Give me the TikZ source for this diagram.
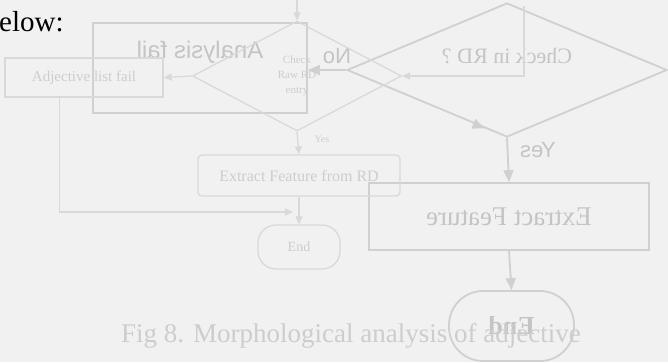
\documentclass[tikz,border=0pt]{standalone}
\usepackage{fontspec}
\setmainfont{Liberation Serif}
\setsansfont{Liberation Sans}
\usepackage{graphicx}
\usetikzlibrary{positioning,arrows.meta,shapes.geometric,calc}
\definecolor{paper}{HTML}{F1F1F1}
\definecolor{bleedline}{HTML}{D0D0D0}
\definecolor{bleedtext}{HTML}{C4C4C4}
\definecolor{faint}{HTML}{D9D9D9}
\definecolor{fainttext}{HTML}{CDCDCD}
\newcommand{\flipped}[1]{\reflectbox{#1}}
\tikzset{
  >={Triangle[length=12pt,width=10pt]},
  bbox/.style={draw=bleedline,line width=1.8pt,inner sep=0pt},
  bdiam/.style={diamond,draw=bleedline,line width=1.8pt,inner sep=0pt},
  bterm/.style={bbox,rounded corners=34pt},
  blbl/.style={text=bleedtext,inner sep=0pt},
  bflow/.style={->,draw=bleedline,line width=1.8pt},
  fbox/.style={draw=faint,line width=1.3pt,inner sep=0pt,text=fainttext},
  fdiam/.style={fbox,diamond,align=center},
  fterm/.style={fbox,rounded corners=18pt},
  fflow/.style={-{Triangle[length=8pt,width=7pt]},draw=faint,line width=1.3pt},
}

\begin{document}
\begin{tikzpicture}[x=1pt,y=-1pt]
  \fill[paper] (0,0) rectangle (668,362);
  \useasboundingbox (0,0) rectangle (668,362);
  \node[font=\fontsize{29}{32}\selectfont,anchor=base west,inner sep=0pt] (below) at (-1,31) {elow:};

  \node[bbox,minimum width=214pt,minimum height=90pt,
    label={[blbl,font=\sffamily\fontsize{24}{26}\selectfont,yshift=16pt]center:\flipped{Analysis fail}}] (fail) at (200,68) {};
  \node[bdiam,minimum width=320pt,minimum height=134pt,
    label={[blbl,font=\fontsize{22}{24}\selectfont,yshift=14pt]center:\flipped{Check in RD ?}}] (checkrd) at (507,70) {};
  \node[bbox,minimum width=280pt,minimum height=67pt,text=bleedtext,
    font=\fontsize{27}{29}\selectfont] (feature) at (509,216.5) {\flipped{Extract Feature}};
  \node[bterm,minimum width=125pt,minimum height=70pt,text=bleedtext,
    font=\bfseries\fontsize{26}{29}\selectfont] (endbig) at (511.5,326) {\flipped{End}};
  \node[blbl,font=\sffamily\fontsize{22}{24}\selectfont] (no) at (337,56) {\flipped{No}};
  \node[blbl,font=\sffamily\fontsize{22}{24}\selectfont] (yes) at (538,150) {\flipped{Yes}};
  \draw[bflow] (checkrd.west) -- (checkrd.west -| fail.east);
  \draw[bflow] (checkrd.south) -- (feature.north);
  \draw[bflow] (feature.south) -- (endbig.north);
  \draw[bflow] ($(checkrd.west)!0.80!(checkrd.south)$) -- ($(checkrd.west)!0.86!(checkrd.south)$);

  \coordinate (topin) at (297,0);
  \coordinate (rdin) at (524,6);
  \coordinate (merge) at (293,212);
  \node[fdiam,minimum width=209pt,minimum height=110pt,
    font=\fontsize{11}{15}\selectfont] (checkraw) at (297,76) {Check\\Raw RD\\entry};
  \node[fbox,minimum width=158pt,minimum height=39pt,
    font=\fontsize{15}{17}\selectfont] (adjfail) at (84,77.5) {Adjective list fail};
  \node[fbox,rounded corners=4pt,minimum width=202pt,minimum height=41pt,
    font=\fontsize{16}{18}\selectfont] (fromrd) at (299,175.5) {Extract Feature from RD};
  \node[fterm,minimum width=82pt,minimum height=44pt,
    font=\fontsize{14}{16}\selectfont] (endsmall) at (299,247) {End};
  \node[text=fainttext,inner sep=0pt,font=\fontsize{10}{12}\selectfont] (yessmall) at (322,139) {Yes};
  \draw[fflow] (topin) -- (checkraw.north);
  \draw[fflow] (rdin) |- (checkraw.east);
  \draw[fflow] (checkraw.west) -- (adjfail.east);
  \draw[fflow] (checkraw.south) -- (fromrd.north);
  \draw[fflow] (fromrd.south) -- (endsmall.north);
  \draw[fflow] ([xshift=55pt]adjfail.south west) |- (merge);

  \node[text=fainttext,inner sep=0pt,anchor=base,
    font=\fontsize{27}{29}\selectfont] (caption) at (351,342) {Fig 8. Morphological analysis of adjective};
\end{tikzpicture}
\end{document}
